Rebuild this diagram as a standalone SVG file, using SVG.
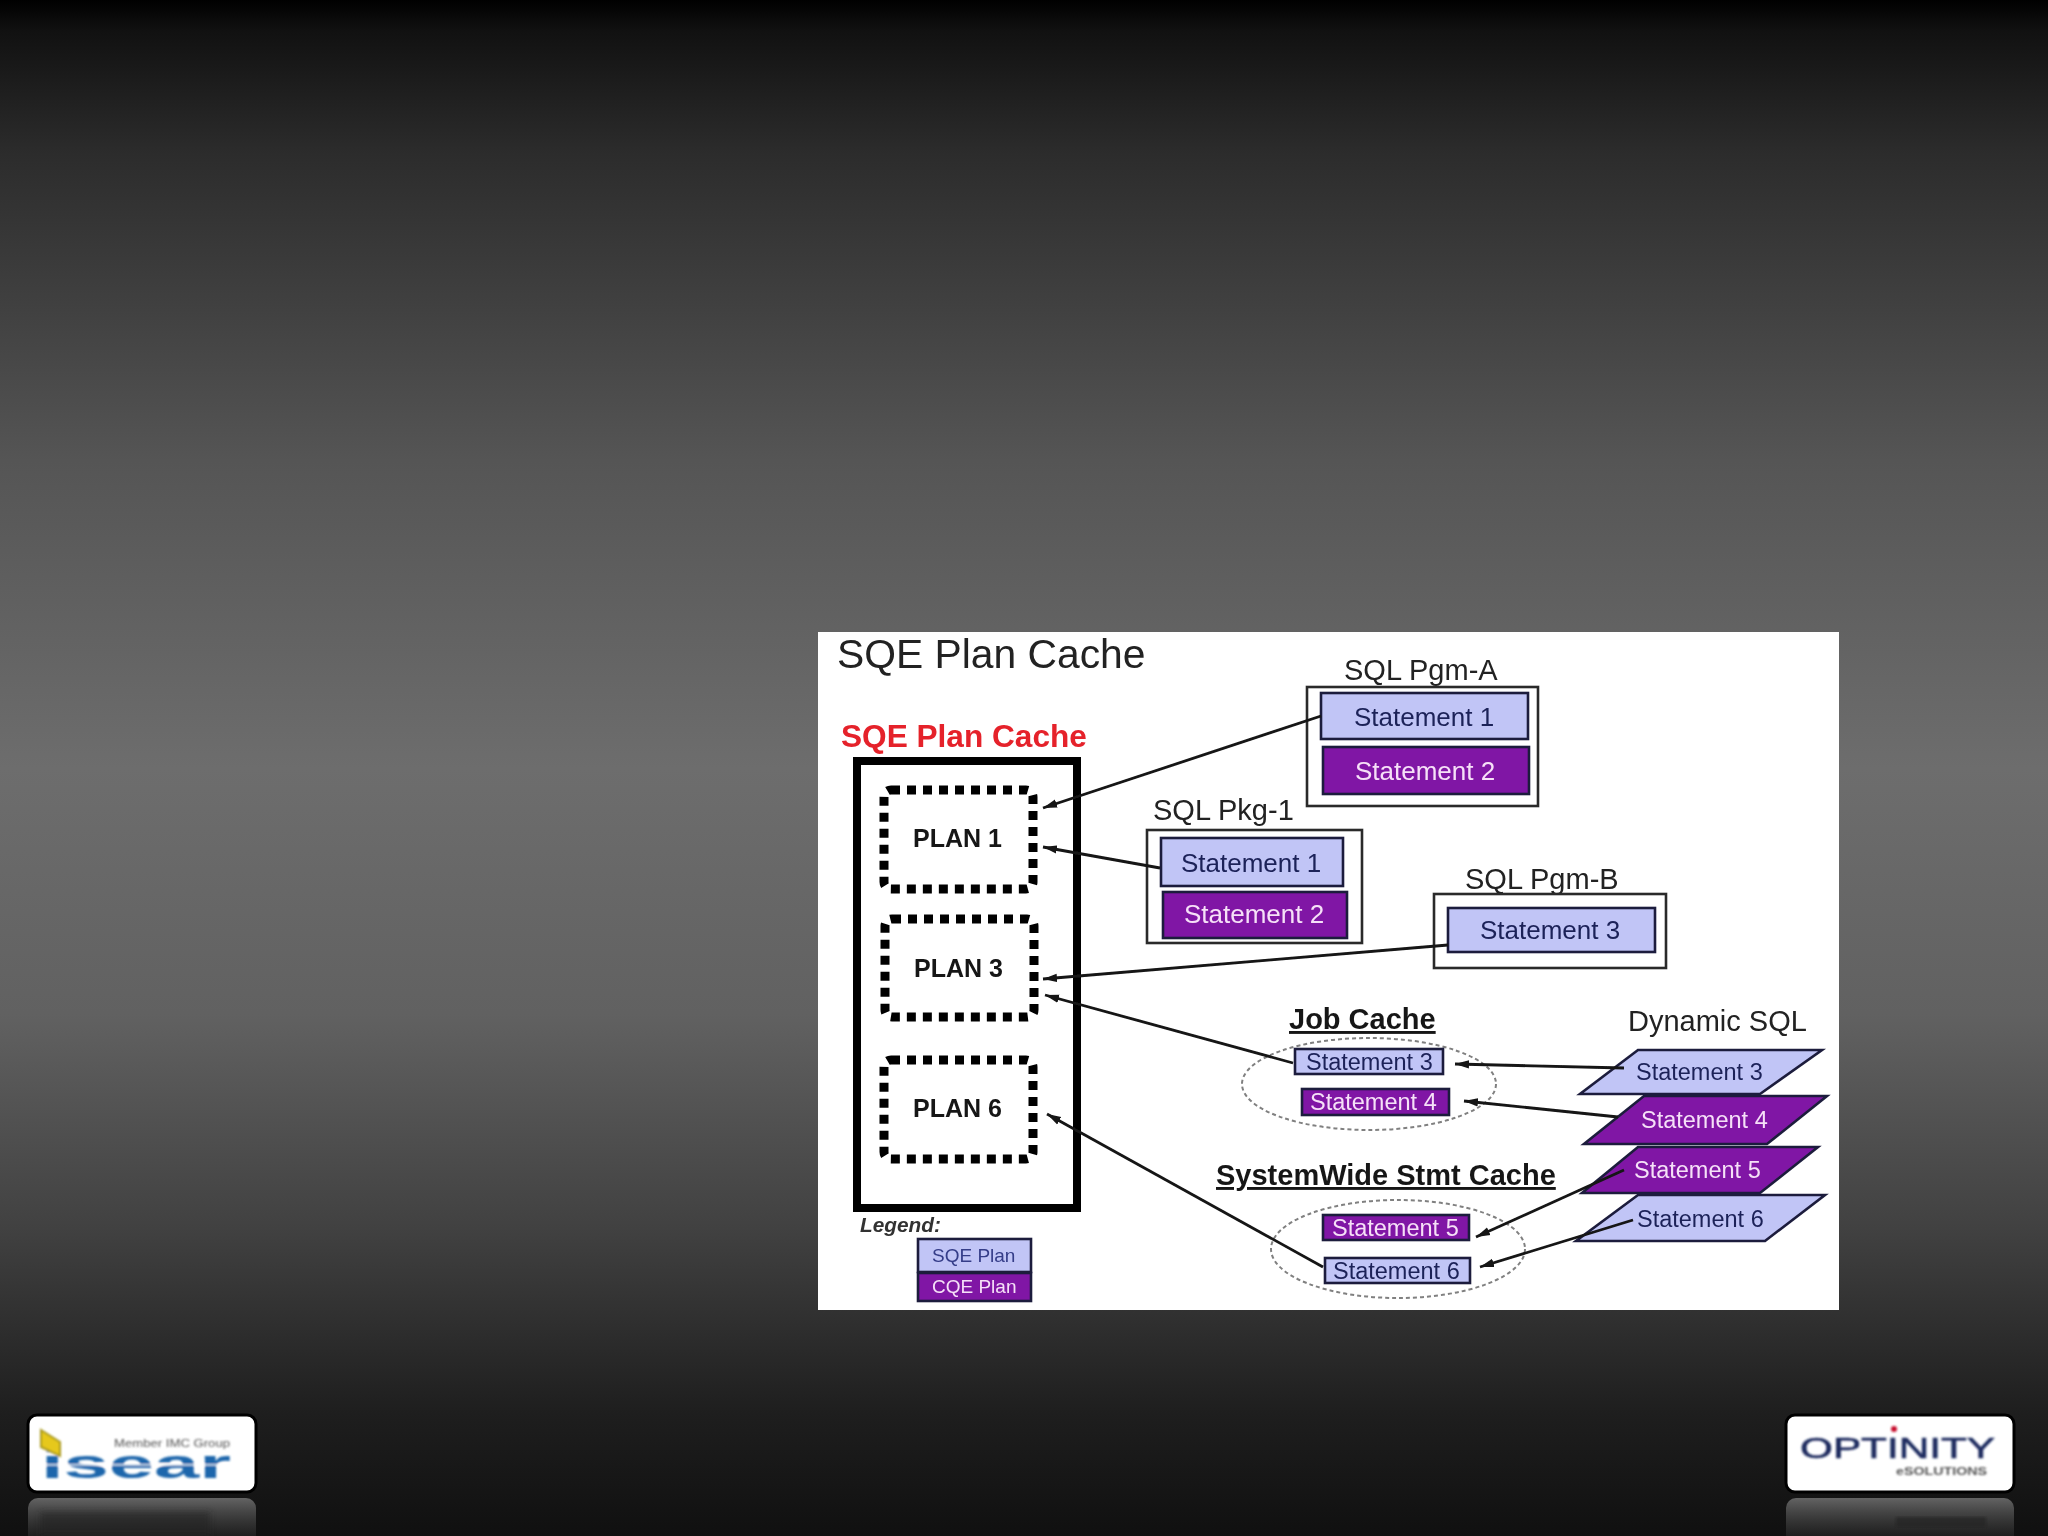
<svg xmlns="http://www.w3.org/2000/svg" width="2048" height="1536" viewBox="0 0 2048 1536">
<style>
text{font-family:"Liberation Sans",Arial,sans-serif}
.lab{fill:#222;font-size:29px}
.box{stroke:#1d1d3c;stroke-width:2.6}
.sqe{fill:#c1c5f6}
.cqe{fill:#8019a5}
.wrap{fill:#fff;stroke:#2a2a2a;stroke-width:2.6}
.ts{fill:#1c2258;font-size:26px}
.tc{fill:#f6e0f8;font-size:26px}
.ts2{fill:#1c2258;font-size:23.5px}
.tc2{fill:#f6e0f8;font-size:23.5px}
.plan{fill:none;stroke:#000;stroke-width:9;stroke-dasharray:9 7}
.pt{fill:#141414;font-size:25px;font-weight:bold}
.head{fill:#191919;font-size:29px;font-weight:bold;text-decoration:underline}
.oval{fill:none;stroke:#808080;stroke-width:2;stroke-dasharray:4 3}
.conn{fill:none;stroke:#141414;stroke-width:2.8;marker-end:url(#ah)}
.card{fill:#fff;stroke:#000;stroke-width:3}
</style>
<defs>
<linearGradient id="bg" x1="0" y1="0" x2="0" y2="1">
<stop offset="0" stop-color="#000"/><stop offset=".02" stop-color="#111"/><stop offset=".1" stop-color="#2c2c2c"/><stop offset=".3" stop-color="#555"/><stop offset=".5" stop-color="#6d6d6d"/><stop offset=".66" stop-color="#616161"/><stop offset=".8" stop-color="#414141"/><stop offset=".92" stop-color="#1e1e1e"/><stop offset="1" stop-color="#101010"/>
</linearGradient>
<linearGradient id="refl" x1="0" y1="0" x2="0" y2="1">
<stop offset="0" stop-color="#777" stop-opacity=".8"/><stop offset="1" stop-color="#333" stop-opacity=".15"/>
</linearGradient>
<marker id="ah" markerUnits="userSpaceOnUse" markerWidth="16" markerHeight="10" refX="14" refY="5" orient="auto"><path d="M0 .8L14 5L0 9.2z" fill="#141414"/></marker>
<filter id="soft" x="-2%" y="-2%" width="104%" height="104%"><feGaussianBlur stdDeviation=".45"/></filter>
<filter id="soft2" x="-5%" y="-10%" width="110%" height="120%"><feGaussianBlur stdDeviation=".8"/></filter>
<filter id="soft3" x="-10%" y="-30%" width="120%" height="160%"><feGaussianBlur stdDeviation="3"/></filter>
</defs>
<rect width="2048" height="1536" fill="url(#bg)"/>
<rect x="818" y="632" width="1021" height="678" fill="#fff"/>
<g filter="url(#soft)">
<text x="837" y="668" font-size="40.8" fill="#222">SQE Plan Cache</text>
<g id="cache">
<text x="841" y="747" font-size="31.6" font-weight="bold" fill="#e5202a">SQE Plan Cache</text>
<rect x="857" y="761" width="220" height="447" fill="#fff" stroke="#000" stroke-width="8"/>
</g>
<g id="plan1"><rect class="plan" x="884" y="790" width="149" height="99" rx="7"/><text class="pt" x="913" y="847">PLAN 1</text></g>
<g id="plan3"><rect class="plan" x="885" y="919" width="149" height="98" rx="7"/><text class="pt" x="914" y="977">PLAN 3</text></g>
<g id="plan6"><rect class="plan" x="884" y="1060" width="149" height="99" rx="7"/><text class="pt" x="913" y="1117">PLAN 6</text></g>
<g id="pgmA">
<text class="lab" x="1344" y="680">SQL Pgm-A</text>
<rect class="wrap" x="1307" y="687" width="231" height="119"/>
<rect class="box sqe" x="1321" y="693" width="207" height="46"/><text class="ts" x="1354" y="726">Statement 1</text>
<rect class="box cqe" x="1323" y="747" width="206" height="47"/><text class="tc" x="1355" y="780">Statement 2</text>
</g>
<g id="pkg1">
<text class="lab" x="1153" y="820">SQL Pkg-1</text>
<rect class="wrap" x="1147" y="830" width="215" height="113"/>
<rect class="box sqe" x="1161" y="838" width="182" height="48"/><text class="ts" x="1181" y="872">Statement 1</text>
<rect class="box cqe" x="1163" y="892" width="184" height="46"/><text class="tc" x="1184" y="923">Statement 2</text>
</g>
<g id="pgmB">
<text class="lab" x="1465" y="889">SQL Pgm-B</text>
<rect class="wrap" x="1434" y="894" width="232" height="74"/>
<rect class="box sqe" x="1448" y="908" width="207" height="44"/><text class="ts" x="1480" y="939">Statement 3</text>
</g>
<g id="jobCache">
<text class="head" x="1289" y="1029">Job Cache</text>
<ellipse class="oval" cx="1369" cy="1084" rx="127" ry="46"/>
<rect class="box sqe" x="1295" y="1049" width="148" height="25"/><text class="ts2" x="1306" y="1070">Statement 3</text>
<rect class="box cqe" x="1302" y="1089" width="147" height="26"/><text class="tc2" x="1310" y="1110">Statement 4</text>
</g>
<g id="stmtCache">
<text class="head" x="1216" y="1185">SystemWide Stmt Cache</text>
<ellipse class="oval" cx="1398" cy="1249" rx="127" ry="49"/>
<rect class="box cqe" x="1323" y="1215" width="146" height="25"/><text class="tc2" x="1332" y="1236">Statement 5</text>
<rect class="box sqe" x="1325" y="1258" width="145" height="25"/><text class="ts2" x="1333" y="1279">Statement 6</text>
</g>
<g id="dynamic">
<text class="lab" x="1628" y="1031">Dynamic SQL</text>
<polygon class="box sqe" points="1638,1050 1822,1050 1760,1094 1580,1094"/><text class="ts2" x="1636" y="1080">Statement 3</text>
<polygon class="box cqe" points="1644,1096 1827,1096 1767,1144 1584,1144"/><text class="tc2" x="1641" y="1128">Statement 4</text>
<polygon class="box cqe" points="1638,1147 1818,1147 1760,1193 1582,1193"/><text class="tc2" x="1634" y="1178">Statement 5</text>
<polygon class="box sqe" points="1638,1195 1825,1195 1765,1241 1576,1241"/><text class="ts2" x="1637" y="1227">Statement 6</text>
</g>
<g id="connectors">
<path class="conn" d="M1321 716L1043 808"/>
<path class="conn" d="M1160 868L1043 847"/>
<path class="conn" d="M1448 945L1043 979"/>
<path class="conn" d="M1293 1063L1045 995"/>
<path class="conn" d="M1323 1267L1047 1114"/>
<path class="conn" d="M1624 1068L1455 1064"/>
<path class="conn" d="M1618 1117L1464 1101"/>
<path class="conn" d="M1624 1170L1476 1237"/>
<path class="conn" d="M1633 1220L1480 1267"/>
</g>
<g id="legend">
<text x="860" y="1232" font-size="20.8" font-weight="bold" font-style="italic" fill="#333">Legend:</text>
<rect class="box sqe" x="918" y="1239" width="113" height="33"/><text x="932" y="1262" font-size="19" fill="#343c88">SQE Plan</text>
<rect class="box cqe" x="918" y="1273" width="113" height="28"/><text x="932" y="1293" font-size="19" fill="#f6e0f8">CQE Plan</text>
</g>
</g>
<g id="logoLeft">
<rect x="28" y="1498" width="228" height="50" rx="10" fill="url(#refl)"/>
<rect x="40" y="1512" width="170" height="24" fill="#222" opacity=".55" filter="url(#soft3)"/>
<rect class="card" x="28" y="1415" width="228" height="77" rx="9"/>
<g filter="url(#soft2)">
<text x="41" y="1478" font-size="40" font-weight="bold" fill="#1f66ac" textLength="190" lengthAdjust="spacingAndGlyphs">isear</text>
<rect x="41" y="1464" width="190" height="1.6" fill="#fff" opacity=".8"/>
<polygon points="41,1430 60,1442 60,1456 41,1447" fill="#e6c81e" stroke="#a99a20" stroke-width="2"/>
<text x="114" y="1447" font-size="10.5" fill="#555" textLength="116" lengthAdjust="spacingAndGlyphs">Member IMC Group</text>
</g>
</g>
<g id="logoRight">
<rect x="1786" y="1498" width="228" height="50" rx="10" fill="url(#refl)"/>
<rect x="1896" y="1517" width="90" height="10" fill="#222" opacity=".6" filter="url(#soft2)"/>
<rect class="card" x="1786" y="1415" width="228" height="77" rx="9"/>
<g filter="url(#soft2)">
<text x="1800" y="1458" font-size="29" fill="#1b2a5e" stroke="#1b2a5e" stroke-width=".6" textLength="195" lengthAdjust="spacingAndGlyphs">OPTINITY</text>
<circle cx="1894" cy="1429" r="3" fill="#c8102e"/>
<text x="1896" y="1475" font-size="11.5" font-weight="bold" fill="#555" textLength="91" lengthAdjust="spacingAndGlyphs">eSOLUTIONS</text>
</g>
</g>
</svg>
